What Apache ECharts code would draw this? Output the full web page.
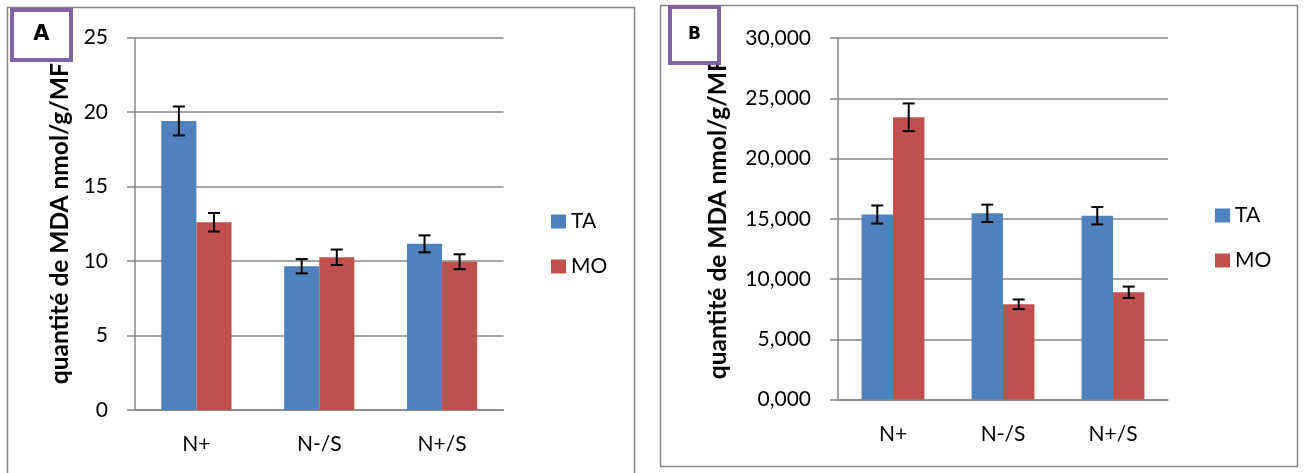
<!DOCTYPE html>
<html>
<head>
<meta charset="utf-8">
<script src="https://cdn.jsdelivr.net/npm/echarts@6/dist/echarts.min.js"></script>
<style>
html,body{margin:0;padding:0;background:#fff;}
#c{width:1304px;height:473px;}
</style>
</head>
<body>
<div id="c"></div>
<script>
// ---- data ----
var categories = ['N+', 'N-/S', 'N+/S'];
var seriesNames = ['TA', 'MO'];
// Panel A (nmol/g/MF)
var taA = [19.4, 9.65, 11.15];
var taAErr = [0.97, 0.48, 0.57];
var moA = [12.6, 10.25, 9.95];
var moAErr = [0.62, 0.52, 0.5];
// Panel B
var taB = [15.35, 15.45, 15.25];
var taBErr = [0.75, 0.72, 0.72];
var moB = [23.42, 7.9, 8.9];
var moBErr = [1.15, 0.4, 0.47];
// axes
var yTicksA = [0, 5, 10, 15, 20, 25];
var yTicksB = [0, 5, 10, 15, 20, 25, 30];
var yTitle = 'quantité de MDA nmol/g/MF';
var panelLabels = ['A', 'B'];

// ---- styling ----
var BLUE = '#4F81BD', RED = '#C0504D', GRID = '#878787', FONT = 'Lato';
var BAR_FRAC = 1 / 3.5; // Excel gap width 150%

function errData(vals, errs) {
  return vals.map(function (v, i) { return [i, v - errs[i], v + errs[i]]; });
}
function errSeries(vals, errs, xi, sign) {
  return {
    type: 'custom', xAxisIndex: xi, yAxisIndex: xi, z: 10,
    data: errData(vals, errs),
    renderItem: function (params, api) {
      var x = api.value(0);
      var top = api.coord([x, api.value(2)]);
      var bot = api.coord([x, api.value(1)]);
      var band = api.size([1, 0])[0];
      var cx = top[0] + sign * band * BAR_FRAC / 2;
      var cap = 6;
      var st = { stroke: '#000', lineWidth: 2 };
      return {
        type: 'group', children: [
          { type: 'line', shape: { x1: cx, y1: top[1], x2: cx, y2: bot[1] }, style: st },
          { type: 'line', shape: { x1: cx - cap, y1: top[1], x2: cx + cap, y2: top[1] }, style: st },
          { type: 'line', shape: { x1: cx - cap, y1: bot[1], x2: cx + cap, y2: bot[1] }, style: st }
        ]
      };
    }
  };
}
function barSeries(name, vals, xi, color) {
  return {
    name: name, type: 'bar', xAxisIndex: xi, yAxisIndex: xi,
    data: vals, barWidth: (BAR_FRAC * 100) + '%', barGap: '0%',
    itemStyle: { color: color }, emphasis: { disabled: true }
  };
}
function xAxisCfg(gi) {
  return {
    type: 'category', gridIndex: gi, data: categories,
    axisLine: { lineStyle: { color: GRID, width: 1.5 } },
    axisTick: { show: false },
    axisLabel: { color: '#000', fontFamily: FONT, fontSize: 21, margin: 24 }
  };
}
function yAxisCfg(gi, max, interval, fmt, gap) {
  return {
    type: 'value', gridIndex: gi, min: 0, max: max, interval: interval,
    name: yTitle, nameLocation: 'middle', nameRotate: 90, nameGap: gap,
    nameTextStyle: { color: '#000', fontFamily: FONT, fontWeight: 'bold', fontSize: 24.5 },
    axisLine: { show: true, lineStyle: { color: GRID, width: 1.5 } },
    axisTick: { show: true, length: 8, lineStyle: { color: GRID, width: 1.5 } },
    splitLine: { show: true, lineStyle: { color: GRID, width: 1.5 } },
    axisLabel: { color: '#000', fontFamily: FONT, fontSize: 21, margin: 27, formatter: fmt }
  };
}
function legendCfg(left, top) {
  return {
    left: left, top: top, orient: 'vertical', itemWidth: 15, itemHeight: 14,
    itemGap: 24, icon: 'rect', selectedMode: false, data: seriesNames,
    textStyle: { color: '#000', fontFamily: FONT, fontSize: 21 }
  };
}
function labelBox(x, y, w, h, txt, font) {
  return [
    { type: 'rect', z: 100, shape: { x: x, y: y, width: w, height: h },
      style: { fill: '#fff', stroke: '#8064A2', lineWidth: 4 } },
    { type: 'text', z: 101, x: x + w / 2, y: y + h / 2,
      style: { text: txt, fill: '#000', font: font, align: 'center', verticalAlign: 'middle' } }
  ];
}

var chart = echarts.init(document.getElementById('c'), null, { renderer: 'canvas' });
chart.setOption({
  animation: false,
  backgroundColor: '#fff',
  grid: [
    { left: 135, top: 37.5, width: 368.5, height: 372.5 },
    { left: 838, top: 38, width: 330, height: 361.5 }
  ],
  xAxis: [xAxisCfg(0), xAxisCfg(1)],
  yAxis: [
    yAxisCfg(0, yTicksA[yTicksA.length - 1], yTicksA[1] - yTicksA[0], function (v) { return String(v); }, 62),
    yAxisCfg(1, yTicksB[yTicksB.length - 1], yTicksB[1] - yTicksB[0], function (v) { return v.toFixed(3).replace('.', ','); }, 107)
  ],
  legend: [legendCfg(546, 206), legendCfg(1210, 200)],
  series: [
    barSeries('TA', taA, 0, BLUE), barSeries('MO', moA, 0, RED),
    barSeries('TA', taB, 1, BLUE), barSeries('MO', moB, 1, RED),
    errSeries(taA, taAErr, 0, -1), errSeries(moA, moAErr, 0, 1),
    errSeries(taB, taBErr, 1, -1), errSeries(moB, moBErr, 1, 1)
  ],
  graphic: [
    { type: 'rect', z: 50, shape: { x: 7.5, y: 7.5, width: 627, height: 480 },
      style: { fill: null, stroke: '#878787', lineWidth: 1.5 } },
    { type: 'rect', z: 50, shape: { x: 660.5, y: 5.5, width: 637, height: 461 },
      style: { fill: null, stroke: '#878787', lineWidth: 1.5 } }
  ].concat(labelBox(12, 10, 59, 50, panelLabels[0], 'bold 21px "DejaVu Sans"'))
   .concat(labelBox(670, 7, 49, 56, panelLabels[1], 'bold 17px "DejaVu Sans"'))
});
</script>
</body>
</html>
